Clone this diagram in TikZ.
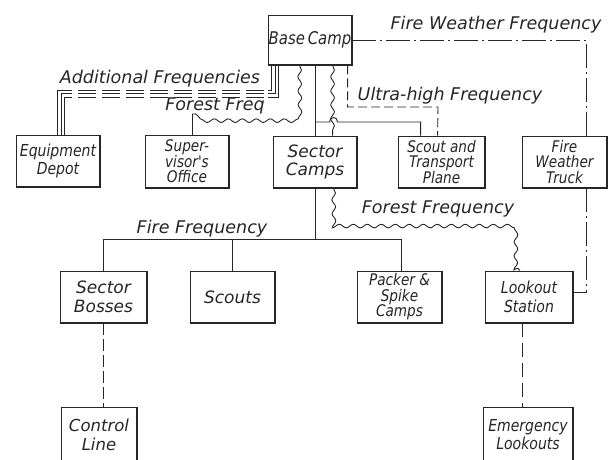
\documentclass[tikz,border=0pt]{standalone}
\usepackage{fontspec}
\newfontfamily\lett{DejaVu Sans}
\newfontfamily\lettn{DejaVu Sans}[FakeStretch=0.85]
\usetikzlibrary{decorations.pathmorphing,calc}
\begin{document}
\begin{tikzpicture}[x=1pt,y=-1pt,
  box/.style={draw=black!85,line width=0.9pt,inner sep=0pt,align=center,
    minimum width=#1,minimum height=52pt,text=black!85,
    font=\lett\itshape\fontsize{16.5}{18}\selectfont},
  box/.default=85pt,
  three/.style={font=\lettn\itshape\fontsize{16}{15.5}\selectfont},
  lab/.style={inner sep=0pt,text=black!85,font=\lett\itshape\fontsize{17.5}{19}\selectfont},
  ln/.style={draw=black!85,line width=0.9pt},
  wave/.style={ln,decorate,decoration={snake,amplitude=1.8pt,segment length=14pt}},
  dashdot/.style={ln,dash pattern=on 24pt off 4pt on 2pt off 4pt},
  shade/.style={draw=black!85,line width=2pt},
  ]
\useasboundingbox (0,0) rectangle (610,459);
\fill[white] (0,0) rectangle (610,459);
\clip (0,0) rectangle (610,459);

% boxes
\node[box=84pt,minimum height=50pt,font=\lettn\itshape\fontsize{17.5}{18}\selectfont] (base) at (310,40) {Base\,Camp};
\node[box=84pt,font=\lettn\itshape\fontsize{16.5}{18}\selectfont] (equip) at (58,161) {Equipment\\Depot};
\node[box=84pt,three] (super) at (187,161.5) {Super-\\visor's\\Office};
\node[box=84pt,font=\lett\itshape\fontsize{17}{18.5}\selectfont] (sector) at (315,162) {Sector\\Camps};
\node[box=87pt,three] (plane) at (441.5,162) {Scout and\\Transport\\Plane};
\node[box=85pt,three] (truck) at (564.5,162) {Fire\\Weather\\Truck};

\node[box=87pt,font=\lett\itshape\fontsize{17}{19}\selectfont] (bosses) at (103.5,297) {Sector\\Bosses};
\node[box=85pt,font=\lett\itshape\fontsize{17}{19}\selectfont] (scouts) at (232.5,297) {Scouts};
\node[box=85pt,three] (packer) at (399.5,297) {Packer \&\\Spike\\Camps};
\node[box=88pt,font=\lettn\itshape\fontsize{16.5}{19}\selectfont] (lookout) at (529,297) {Lookout\\Station};
\node[box=76pt,minimum height=56pt,font=\lett\itshape\fontsize{16.5}{19}\selectfont] (control) at (99,435) {Control\\Line};
\node[box=90pt,minimum height=56pt,font=\lettn\itshape\fontsize{16.5}{18}\selectfont] (emerg) at (528,435) {Emergency\\Lookouts};

\foreach \n in {base,equip,super,sector,plane,truck,bosses,scouts,packer,lookout,control,emerg}
  \draw[shade] (\n.south west) -- (\n.south east) -- (\n.north east);

% labels
\node[lab] (lfw) at (496,25) {Fire Weather Frequency};
\node[lab] (laf) at (160,79) {Additional Frequencies};
\node[lab] (lff) at (215,106) {Forest Freq};
\node[lab] (luh) at (450,96) {Ultra-high Frequency};
\node[lab] (lfo) at (438,209) {Forest Frequency};
\node[lab] (lfi) at (202,229) {Fire Frequency};

% Additional frequencies: triple line
\foreach \dx/\yy/\ex in {4/90/42, 7.3/93.5/45.5, 10.6/97/49}{
  \coordinate (tA) at ($(base.south west)+(\dx,0)$);
  \coordinate (tD) at ($(equip.north west)+(\ex,0)$);
  \draw[ln,line width=0.7pt] (tA) |- (268,\yy);
  \draw[ln,line width=0.7pt] (tD) |- (70,\yy);
  \draw[ln,line width=0.7pt,dash pattern=on 18pt off 6pt] (264,\yy) -- (70,\yy);
}

% Forest Freq (wavy) base -> supervisor
\coordinate (ffc) at (192,114);
\draw[wave] ($(base.south west)+(32,0)$) -- (300,114) -- (ffc);
\draw[ln] (ffc) -- (super.north west -| ffc);

% solid base -> sector camps
\draw[ln] (sector.north |- base.south) -- (sector.north);

% line to scout plane with hop
\coordinate (j1) at (315,122);
\draw[ln] (j1) -- (329.5,122) .. controls (329.5,116) and (337.5,116) .. (337.5,122)
   -| ($(plane.north west)+(23,0)$);

% wavy base -> sector camps
\draw[wave] ($(base.south west)+(65,0)$) -- ($(sector.north west)+(60,0)$);

% Ultra-high frequency dashed
\draw[ln,dash pattern=on 9pt off 4pt] ($(base.south west)+(80,0)$) |- (438,107) -- ($(plane.north west)+(40,0)$);

% Fire weather frequency dash-dot
\draw[dashdot] (base.east) -| ($(truck.north west)+(65,0)$);
\draw[dashdot] ($(truck.south west)+(65,0)$) |- ($(lookout.north east)+(0,22)$);

% Fire frequency
\coordinate (ff) at (315,240);
\draw[ln] (sector.south) -- (ff);
\draw[ln] (bosses.north) |- ($(packer.north west)+(45,-31)$) -- ($(packer.north west)+(45,0)$);
\draw[ln] (scouts.north) -- (scouts.north |- ff);

% Forest frequency wavy sector -> lookout
\draw[wave] ($(sector.south west)+(61,0)$) -- (334,222) -- (520,222) -- ($(lookout.north west)+(35,0)$);

% dashed to control line and emergency lookouts
\draw[ln,dash pattern=on 12pt off 4pt] (bosses.south) -- (bosses.south |- control.north);
\draw[ln,dash pattern=on 14pt off 6pt] ($(lookout.south west)+(38,0)$) -- ($(emerg.north west)+(40,0)$);
\end{tikzpicture}
\end{document}
